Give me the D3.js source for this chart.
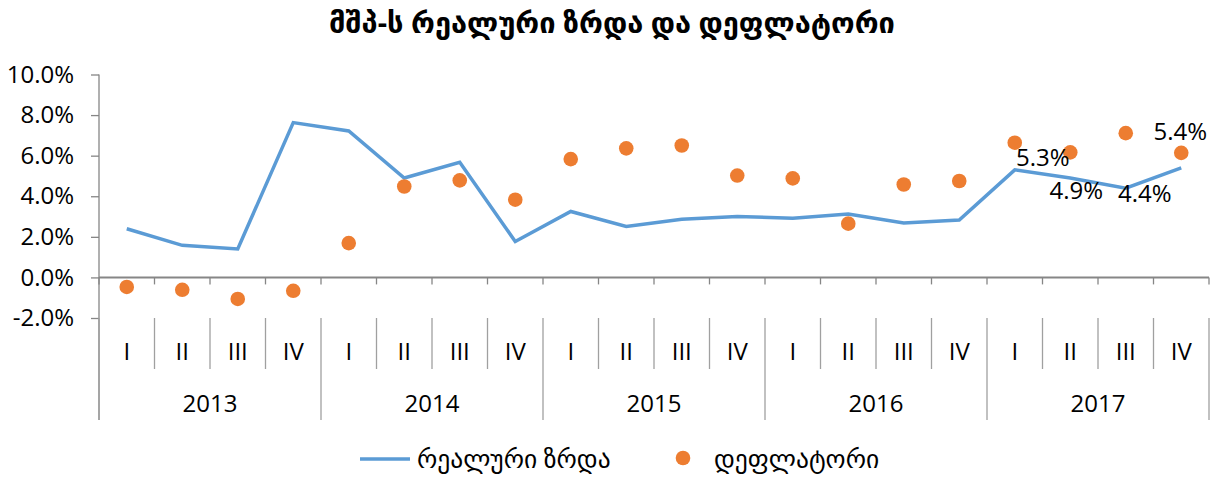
<!DOCTYPE html>
<html>
<head>
<meta charset="utf-8">
<script src="https://cdn.jsdelivr.net/npm/d3@7/dist/d3.min.js"></script>
<style>
  body { margin: 0; background: #fff; }
  svg text { font-family: "Open Sans", "DejaVu Sans", sans-serif; fill: #000; }
</style>
</head>
<body>
<div id="chart"></div>
<script>
// quarters and years
const quarters = ["I", "II", "III", "IV"];
const years = ["2013", "2014", "2015", "2016", "2017"];

// real GDP growth, % (line)
const realGrowth = [2.4, 1.58, 1.4, 7.63, 7.22, 4.9, 5.67, 1.77, 3.25, 2.51,
  2.87, 3.0, 2.92, 3.12, 2.68, 2.83, 5.3, 4.9, 4.4, 5.4];

// GDP deflator, % (dots)
const deflator = [-0.47, -0.61, -1.06, -0.66, 1.69, 4.48, 4.78, 3.83, 5.83, 6.36,
  6.5, 5.02, 4.88, 2.65, 4.58, 4.75, 6.64, 6.16, 7.11, 6.14];

const yTicks = [-2, 0, 2, 4, 6, 8, 10];
const labelled = [16, 17, 18, 19];

const title = "მშპ-ს რეალური ზრდა და დეფლატორი";
const legendNames = ["რეალური ზრდა", "დეფლატორი"];

const W = 1214, H = 477;
const margin = { top: 74.5, left: 99, right: 5, bottom: 159 };

const cats = [];
years.forEach(y => quarters.forEach(q => cats.push(y + "-" + q)));

const svg = d3.select("#chart").append("svg")
  .attr("width", W).attr("height", H);

const x = d3.scaleBand().domain(cats).range([margin.left, W - margin.right]);
const y = d3.scaleLinear().domain([-2, 10]).range([H - margin.bottom, margin.top]);
const cx = i => x(cats[i]) + x.bandwidth() / 2;

// title
svg.append("text")
  .attr("x", 612).attr("y", 33)
  .attr("text-anchor", "middle")
  .style("font-size", "29px")
  .style("font-weight", "bold")
  .text(title);

// y axis
const yAxis = d3.axisLeft(y).tickValues(yTicks).tickSize(8).tickPadding(17)
  .tickFormat(d => d.toFixed(1) + "%");
const gy = svg.append("g").attr("transform", `translate(${margin.left},0)`).call(yAxis);
gy.select(".domain").remove();
gy.selectAll(".tick line").attr("stroke", "#868686").attr("stroke-width", 1.3);
gy.selectAll(".tick text").style("font-size", "24px").style("font-family", "'Open Sans', sans-serif");

const axisBottom = y(-2);
const qRow = 369, yRow = 420;

// vertical axis line, down through the category rows
svg.append("line")
  .attr("x1", margin.left).attr("x2", margin.left)
  .attr("y1", margin.top).attr("y2", yRow)
  .attr("stroke", "#868686").attr("stroke-width", 1.3);

// category ticks below zero line
const edges = d3.range(cats.length + 1).map(i => i < cats.length ? x(cats[i]) : x.range()[1]);
svg.append("g").selectAll("line.stub").data(edges).join("line")
  .attr("x1", d => d).attr("x2", d => d)
  .attr("y1", y(0)).attr("y2", y(0) + 7)
  .attr("stroke", "#868686").attr("stroke-width", 1.3);

// separators between quarter labels and years
svg.append("g").selectAll("line.sep").data(edges).join("line")
  .attr("x1", d => d).attr("x2", d => d)
  .attr("y1", axisBottom)
  .attr("y2", (d, i) => i % 4 === 0 ? yRow : qRow)
  .attr("stroke", "#a0a0a0").attr("stroke-width", 1.3);

// zero line
svg.append("line")
  .attr("x1", margin.left).attr("x2", x.range()[1])
  .attr("y1", y(0)).attr("y2", y(0))
  .attr("stroke", "#868686").attr("stroke-width", 2);

// quarter labels
svg.append("g").selectAll("text").data(cats).join("text")
  .attr("x", (d, i) => cx(i)).attr("y", 360)
  .attr("text-anchor", "middle")
  .style("font-size", "24px")
  .text(d => d.split("-")[1]);

// year labels
svg.append("g").selectAll("text").data(years).join("text")
  .attr("x", (d, i) => (x(cats[i * 4]) + x(cats[i * 4 + 3]) + x.bandwidth()) / 2)
  .attr("y", 412)
  .attr("text-anchor", "middle")
  .style("font-size", "24px")
  .text(d => d);

// real growth line
const line = d3.line().x((d, i) => cx(i)).y(d => y(d));
svg.append("path")
  .datum(realGrowth)
  .attr("d", line)
  .attr("fill", "none")
  .attr("stroke", "#5b9bd5")
  .attr("stroke-width", 3.5)
  .attr("stroke-linejoin", "miter");

// deflator dots
svg.append("g").selectAll("circle").data(deflator).join("circle")
  .attr("cx", (d, i) => cx(i)).attr("cy", d => y(d))
  .attr("r", 7.3)
  .attr("fill", "#ed7d31");

// data labels for the last four quarters (moved by hand in the original)
const nudge = { 16: [28, -12], 17: [6, 13], 18: [19, 5], 19: [-1, -36] };
svg.append("g").selectAll("text").data(labelled).join("text")
  .attr("x", i => cx(i) + nudge[i][0])
  .attr("y", i => y(realGrowth[i]) + nudge[i][1])
  .attr("text-anchor", "middle")
  .attr("dy", "0.35em")
  .style("font-size", "24px")
  .text(i => realGrowth[i].toFixed(1) + "%");

// legend
const lg = svg.append("g");
lg.append("line")
  .attr("x1", 360).attr("x2", 410).attr("y1", 459).attr("y2", 459)
  .attr("stroke", "#5b9bd5").attr("stroke-width", 3.5);
lg.append("text").attr("x", 417).attr("y", 468)
  .style("font-size", "25.5px").text(legendNames[0]);
lg.append("circle").attr("cx", 683).attr("cy", 458).attr("r", 7.3).attr("fill", "#ed7d31");
lg.append("text").attr("x", 714).attr("y", 468)
  .style("font-size", "25.5px").text(legendNames[1]);
</script>
</body>
</html>
